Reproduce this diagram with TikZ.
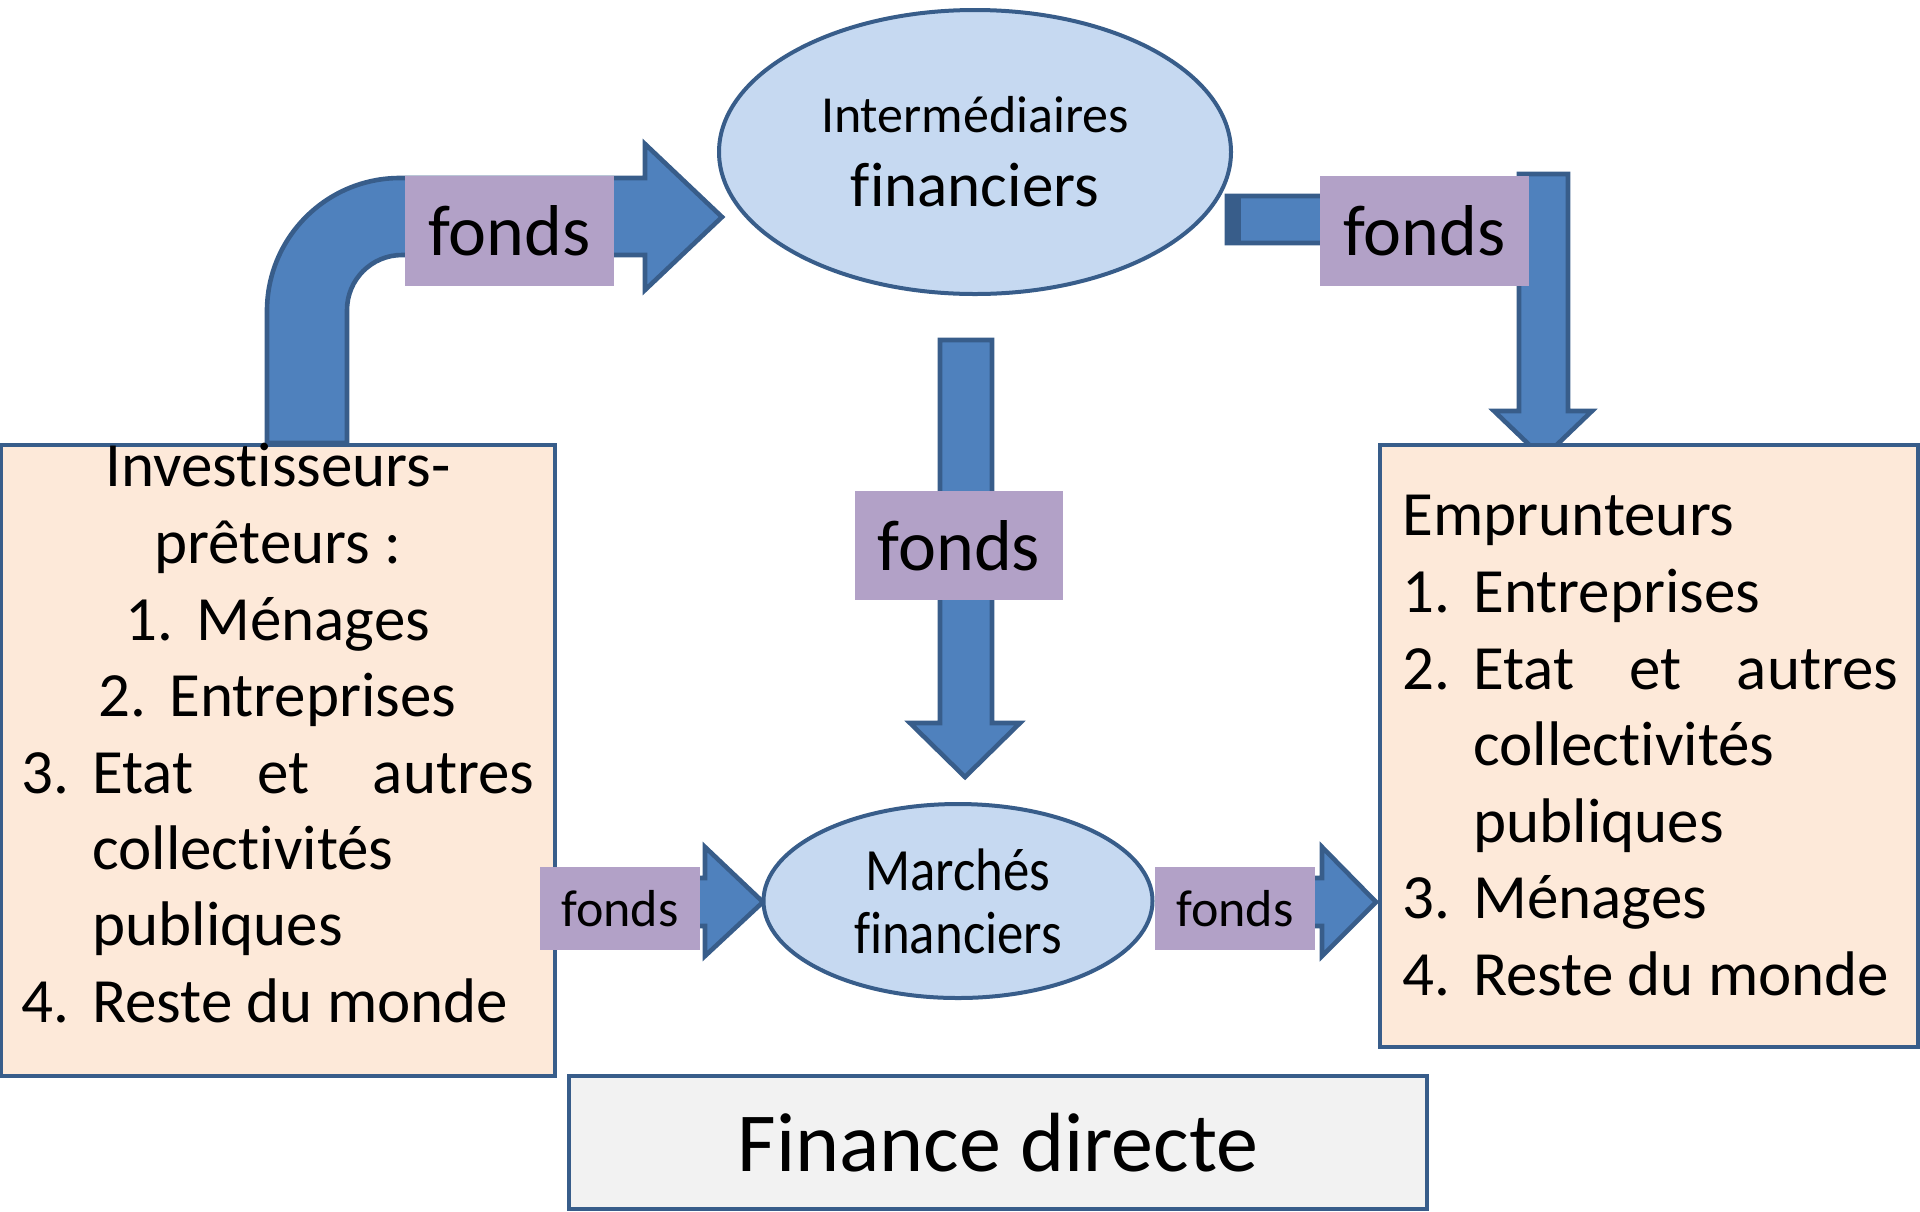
\documentclass[tikz,border=0pt]{standalone}
\usepackage{fontspec}
\setmainfont{Carlito}[Ligatures={NoCommon}]
\newfontfamily\narrowcal{Carlito}[FakeStretch=0.88,Ligatures={NoCommon}]
\usetikzlibrary{shapes.geometric}

\definecolor{arrowblue}{HTML}{4F81BD}
\definecolor{edgeblue}{HTML}{385D8A}
\definecolor{ovalfill}{HTML}{C6D9F1}
\definecolor{peach}{HTML}{FDE9D9}
\definecolor{lilac}{HTML}{B2A1C7}
\definecolor{paper}{HTML}{F2F2F2}

\begin{document}
\begin{tikzpicture}[x=0.5pt,y=-0.5pt,
  blockarrow/.style={fill=arrowblue,draw=edgeblue,line width=2.3pt,line join=miter},
  oval/.style={ellipse,fill=ovalfill,draw=edgeblue,line width=2pt,inner sep=0pt},
  listbox/.style={rectangle,fill=peach,draw=edgeblue,line width=1.75pt,inner sep=0pt},
  tag/.style={rectangle,fill=lilac,inner sep=0pt,font=\fontsize{36}{43}\selectfont},
  smalltag/.style={rectangle,fill=lilac,inner sep=0pt,font=\fontsize{26}{31}\selectfont},
  txt/.style={inner sep=0pt,font=\fontsize{31.5}{38}\selectfont},
]
\useasboundingbox (0,0) rectangle (1920,1211);

% ---- block arrows ----
% bent arrow from the lenders up to the intermediaries
\draw[blockarrow] (267,443) -- (267,311)
  .. controls (267,237.5) and (326.5,178) .. (400,178)
  -- (645,178) -- (645,144) -- (722,217) -- (645,290) -- (645,255)
  -- (402,255) .. controls (371.6,255) and (347,279.6) .. (347,310)
  -- (347,443) -- cycle;

% L-shaped arrow from the intermediaries down to the borrowers
\draw[blockarrow] (1227,196) -- (1519,196) -- (1519,174) -- (1568,174)
  -- (1568,411) -- (1592,411) -- (1543,458) -- (1494,411) -- (1519,411)
  -- (1519,243) -- (1227,243) -- cycle;
\fill[edgeblue] (1227,196) rectangle (1241,243);

% straight arrow from the intermediaries down to the markets
\draw[blockarrow] (940,340) -- (992,340) -- (992,723) -- (1020,723)
  -- (965,777) -- (910,723) -- (940,723) -- cycle;

% short arrows in and out of the markets
\draw[blockarrow] (600,878) -- (705,878) -- (705,847) -- (763,902)
  -- (705,956) -- (705,926) -- (600,926) -- cycle;
\draw[blockarrow] (1200,878) -- (1322,878) -- (1322,847) -- (1376,902)
  -- (1322,956) -- (1322,926) -- (1200,926) -- cycle;

% ---- ovals ----
\node[oval,minimum width=256pt,minimum height=142pt] (inter) at (975,152) {};
\node[txt,anchor=base,font=\fontsize{26}{31}\selectfont] (interA) at (975,132) {Intermédiaires};
\node[txt,anchor=base] (interB) at (975,206) {financiers};

\node[oval,minimum width=194.5pt,minimum height=97pt] (market) at (958,901) {};
\node[txt,anchor=base,font=\narrowcal\fontsize{30}{36}\selectfont] (marketA) at (958,890) {Marchés};
\node[txt,anchor=base,font=\narrowcal\fontsize{30}{36}\selectfont] (marketB) at (958,953) {financiers};

% ---- lenders ----
\node[listbox,minimum width=276.75pt,minimum height=315.5pt] (lenders) at (278.25,760.5) {};
\node[txt,anchor=base] (l0) at (278,486) {Investisseurs-};
\node[txt,anchor=base] (l1) at (278,563) {prêteurs :};
\node[txt,anchor=base west] (l2n) at (125,640) {1.};
\node[txt,anchor=base west] (l2) at (196,640) {Ménages};
\node[txt,anchor=base west] (l3n) at (98,716) {2.};
\node[txt,anchor=base west] (l3) at (169,716) {Entreprises};
\node[txt,anchor=base west] (l4n) at (21,793) {3.};
\node[txt,anchor=base west] (l4) at (92,793) {\hbox to 221pt{Etat\hfill et\hfill autres}};
\node[txt,anchor=base west] (l5) at (92,869) {collectivités};
\node[txt,anchor=base west] (l6) at (92,945) {publiques};
\node[txt,anchor=base west] (l7n) at (21,1022) {4.};
\node[txt,anchor=base west] (l7) at (92,1022) {Reste du monde};

% ---- borrowers ----
\node[listbox,minimum width=269pt,minimum height=301pt] (borrowers) at (1649,746) {};
\node[txt,anchor=base west] (r0) at (1402,535) {Emprunteurs};
\node[txt,anchor=base west] (r1n) at (1402,612) {1.};
\node[txt,anchor=base west] (r1) at (1473,612) {Entreprises};
\node[txt,anchor=base west] (r2n) at (1402,689) {2.};
\node[txt,anchor=base west] (r2) at (1473,689) {\hbox to 212.5pt{Etat\hfill et\hfill autres}};
\node[txt,anchor=base west] (r3) at (1473,765) {collectivités};
\node[txt,anchor=base west] (r4) at (1473,842) {publiques};
\node[txt,anchor=base west] (r5n) at (1402,918) {3.};
\node[txt,anchor=base west] (r5) at (1473,918) {Ménages};
\node[txt,anchor=base west] (r6n) at (1402,995) {4.};
\node[txt,anchor=base west] (r6) at (1473,995) {Reste du monde};

% ---- fund labels ----
\node[tag,minimum width=104.5pt,minimum height=55pt] (f1) at (509.5,231) {fonds};
\node[tag,minimum width=104.5pt,minimum height=55pt] (f2) at (1424.5,231) {fonds};
\node[tag,minimum width=104pt,minimum height=54.5pt] (f3) at (959,545.5) {fonds};
\node[smalltag,minimum width=80pt,minimum height=41.5pt] (f4) at (620,908.5) {fonds};
\node[smalltag,minimum width=80pt,minimum height=41.5pt] (f5) at (1235,908.5) {fonds};

% ---- caption ----
\node[rectangle,fill=paper,draw=edgeblue,line width=1.75pt,inner sep=0pt,
  minimum width=429pt,minimum height=66.5pt,font=\fontsize{42}{50}\selectfont]
  (caption) at (998,1142.5) {Finance directe};
\end{tikzpicture}
\end{document}
